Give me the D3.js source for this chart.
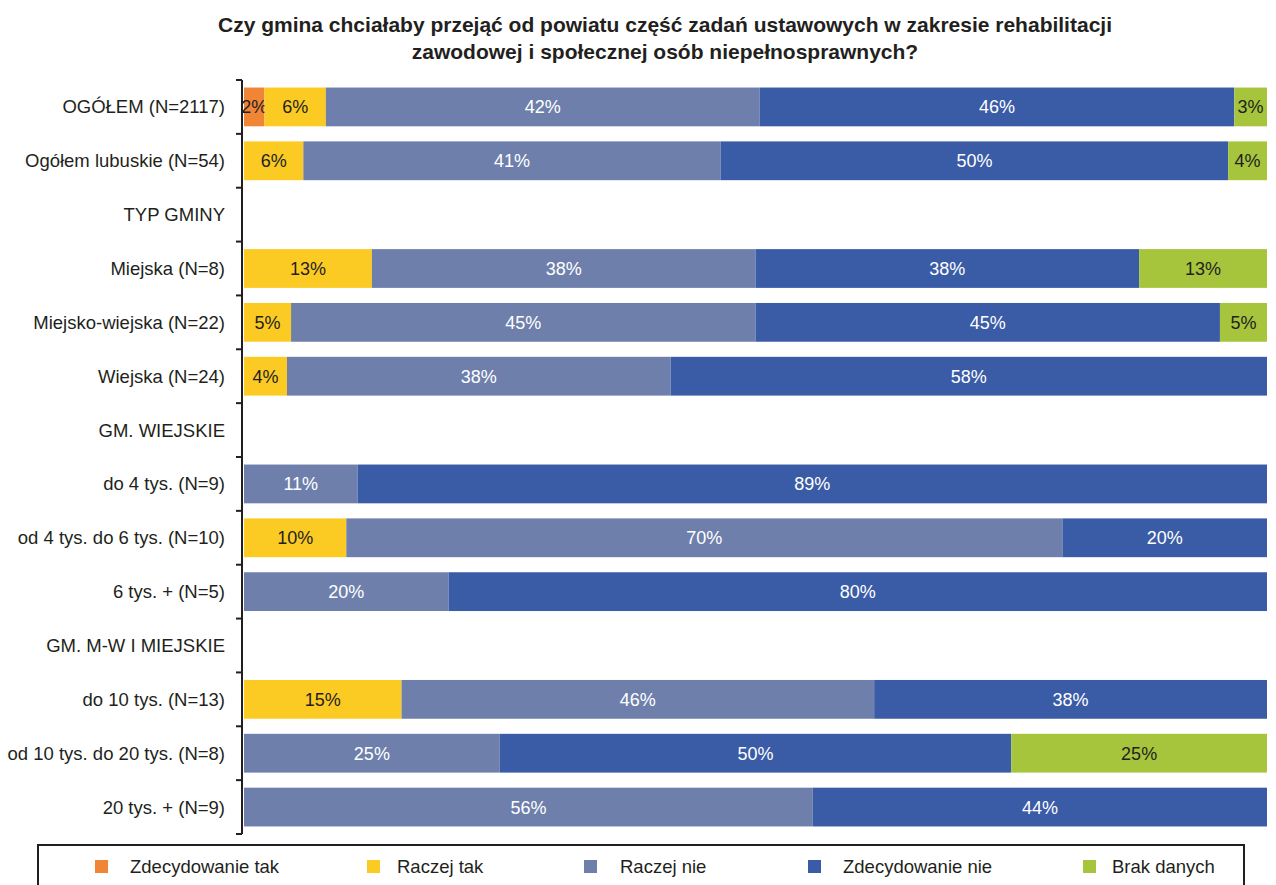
<!DOCTYPE html>
<html lang="pl">
<head>
<meta charset="UTF-8">
<title>Rehabilitacja osób niepełnosprawnych</title>
<script src="https://d3js.org/d3.v7.min.js"></script>
<style>
    body { margin: 0; background: #fff; }
    text { font-family: "Liberation Sans", Arial, sans-serif; }
    .title { font-weight: bold; font-size: 21px; fill: #231f20; }
    .cat { font-size: 18.5px; fill: #231f20; }
    .val { font-size: 18px; }
    .leg { font-size: 18.5px; fill: #231f20; }
</style>
</head>
<body>
<div id="chart"></div>
<script>
    // data (percent of gminas)
    var categories = ["OGÓŁEM (N=2117)", "Ogółem lubuskie (N=54)", "TYP GMINY", "Miejska (N=8)",
        "Miejsko-wiejska (N=22)", "Wiejska (N=24)", "GM. WIEJSKIE", "do 4 tys. (N=9)",
        "od 4 tys. do 6 tys. (N=10)", "6 tys. + (N=5)", "GM. M-W I MIEJSKIE", "do 10 tys. (N=13)",
        "od 10 tys. do 20 tys. (N=8)", "20 tys. + (N=9)"];
    var series = ["Zdecydowanie tak", "Raczej tak", "Raczej nie", "Zdecydowanie nie", "Brak danych"];
    var zdecydowanieTak  = [2,   0,    0, 0,    0,    0,    0, 0,    0,  0,  0, 0,    0,  0];
    var raczejTak        = [6,   5.8,  0, 12.5, 4.6,  4.2,  0, 0,    10, 0,  0, 15.4, 0,  0];
    var raczejNie        = [42.4,40.8, 0, 37.5, 45.4, 37.5, 0, 11.1, 70, 20, 0, 46.2, 25, 55.6];
    var zdecydowanieNie  = [46.4,49.6, 0, 37.5, 45.4, 58.3, 0, 88.9, 20, 80, 0, 38.4, 50, 44.4];
    var brakDanych       = [3.2, 3.8,  0, 12.5, 4.6,  0,    0, 0,    0,  0,  0, 0,    25, 0];
    var colors = ["#f08536", "#fccb23", "#6e7fac", "#3a5ba6", "#a6c53c"];
    var labelColors = ["#231f20", "#231f20", "#ffffff", "#ffffff", "#231f20"];

    var width = 1276, height = 885;
    var svg = d3.select("#chart").append("svg")
        .attr("width", width)
        .attr("height", height);

    var rows = categories.map(function (c, i) {
        return { cat: c, values: [zdecydowanieTak[i], raczejTak[i], raczejNie[i], zdecydowanieNie[i], brakDanych[i]] };
    });

    var x = d3.scaleLinear().domain([0, 100]).range([244, 1267]);
    var y = d3.scaleBand().domain(categories).range([80, 834]).paddingInner(0.28).paddingOuter(0.14);

    // title
    var title = svg.append("text").attr("class", "title").attr("text-anchor", "middle");
    title.append("tspan").attr("x", 665).attr("y", 32)
        .text("Czy gmina chciałaby przejąć od powiatu część zadań ustawowych w zakresie rehabilitacji");
    title.append("tspan").attr("x", 665).attr("y", 59)
        .text("zawodowej i społecznej osób niepełnosprawnych?");

    // stacked bars
    var stack = d3.stack().keys(d3.range(series.length)).value(function (d, k) { return d.values[k]; });
    var layers = stack(rows);

    var g = svg.append("g");
    layers.forEach(function (layer, k) {
        var seg = g.selectAll(".s" + k)
            .data(layer.filter(function (d) { return d[1] - d[0] > 0; }))
            .enter().append("g");
        seg.append("rect")
            .attr("x", function (d) { return x(d[0]); })
            .attr("y", function (d) { return y(d.data.cat); })
            .attr("width", function (d) { return x(d[1]) - x(d[0]); })
            .attr("height", y.bandwidth())
            .attr("fill", colors[k]);
        seg.append("text")
            .attr("class", "val")
            .attr("text-anchor", "middle")
            .attr("x", function (d) { return (x(d[0]) + x(d[1])) / 2; })
            .attr("y", function (d) { return y(d.data.cat) + y.bandwidth() / 2 + 6.5; })
            .attr("fill", labelColors[k])
            .text(function (d) { return Math.round(d[1] - d[0]) + "%"; });
    });

    // y axis with ticks at band boundaries
    var axis = svg.append("g");
    axis.append("line")
        .attr("x1", 242).attr("x2", 242)
        .attr("y1", 80).attr("y2", 834)
        .attr("stroke", "#231f20").attr("stroke-width", 2);
    axis.selectAll(".tick")
        .data(d3.range(categories.length + 1))
        .enter().append("line")
        .attr("x1", 236).attr("x2", 242)
        .attr("y1", function (i) { return 80 + i * y.step(); })
        .attr("y2", function (i) { return 80 + i * y.step(); })
        .attr("stroke", "#231f20").attr("stroke-width", 2);
    axis.selectAll(".cat")
        .data(categories)
        .enter().append("text")
        .attr("class", "cat")
        .attr("text-anchor", "end")
        .attr("x", 225)
        .attr("y", function (d) { return y(d) + y.bandwidth() / 2 + 6.5; })
        .text(function (d) { return d; });

    // legend
    svg.append("rect")
        .attr("x", 38).attr("y", 845)
        .attr("width", 1206).attr("height", 60)
        .attr("fill", "none").attr("stroke", "#231f20").attr("stroke-width", 2);
    var legSwatchX = [95, 367, 584, 808, 1083];
    var legTextX = [130, 397, 620, 843, 1112];
    var leg = svg.selectAll(".legItem")
        .data(series)
        .enter().append("g");
    leg.append("rect")
        .attr("x", function (d, i) { return legSwatchX[i]; })
        .attr("y", 860)
        .attr("width", 13).attr("height", 13)
        .attr("fill", function (d, i) { return colors[i]; });
    leg.append("text")
        .attr("class", "leg")
        .attr("x", function (d, i) { return legTextX[i]; })
        .attr("y", 873)
        .text(function (d) { return d; });
</script>
</body>
</html>
